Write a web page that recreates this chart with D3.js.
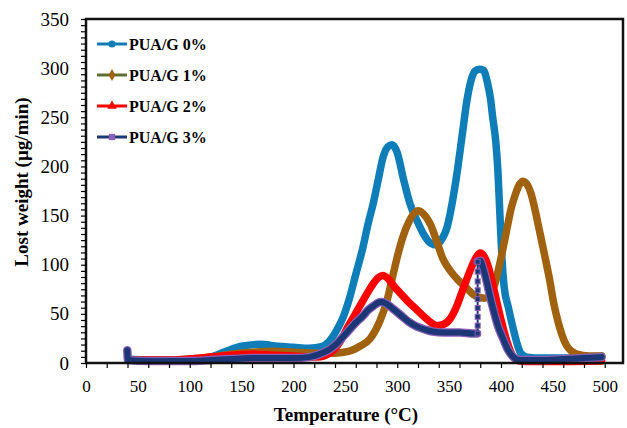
<!DOCTYPE html>
<html>
<head>
<meta charset="utf-8">
<script src="https://cdn.jsdelivr.net/npm/d3@7/dist/d3.min.js"></script>
<style>
  body { margin: 0; background: #fff; }
  text { font-family: "Liberation Serif", "Times New Roman", serif; }
</style>
</head>
<body>
<div id="chart"></div>
<script>
// data (temperature °C, lost weight µg/min)
const temp0 = [40.5, 60, 80, 100, 120, 135, 150, 168, 185, 200, 215, 228, 236, 242, 248, 254, 260, 267, 272, 277, 282, 286, 291, 295, 300, 306, 312, 319, 326, 332, 338, 343, 348, 353, 358, 363, 367, 371, 375, 379, 383, 387, 390, 392, 395, 397, 399, 401, 403, 407, 412, 416, 419, 425, 440, 460, 480, 497];
const val0  = [4, 3, 3, 3.5, 6, 12, 17, 19, 17, 16, 15, 17, 24, 34, 47, 66, 90, 118, 142, 163, 188, 208, 220, 222, 214, 187, 163, 145, 130, 122, 120, 126, 138, 163, 196, 235, 266, 287, 297, 299, 298, 285, 268, 250, 225, 196, 150, 105, 78, 57, 34, 18, 10, 6, 5, 5, 6, 7];

const temp1 = [40.5, 60, 80, 100, 120, 140, 160, 180, 200, 223, 240, 254, 264, 274, 283, 290, 296, 301, 306, 311, 316, 320, 325, 332, 338, 344, 351, 359, 367, 373, 378, 384, 389, 394, 399, 403, 406, 410, 414, 418, 421, 425, 429, 433, 437, 441, 447, 451, 455, 459, 463, 468, 473, 485, 497];
const val1  = [3, 3, 3, 4, 6, 9, 11, 12, 11, 10, 10, 12, 17, 25, 42, 63, 90, 112, 130, 143, 152, 155, 152, 141, 124, 106, 94, 84, 76, 70, 67, 66, 68, 80, 102, 122, 138, 158, 172, 182, 185, 182, 172, 155, 135, 115, 84, 60, 42, 28, 18, 12, 9, 7, 7];

const temp2 = [40.5, 60, 80, 100, 120, 140, 160, 180, 200, 223, 235, 245, 252, 258, 264, 270, 277, 282, 286, 291, 297, 303, 311, 319, 327, 334, 338, 344, 351, 357, 363, 368, 373, 377, 380, 384, 388, 392, 396, 400, 404, 408, 412, 418, 430, 460, 497];
const val2  = [3, 3, 3, 4, 6, 8, 9, 8, 7, 6, 10, 22, 36, 47, 58, 69, 81, 87, 89, 86, 78, 71, 62, 54, 46, 40, 38, 39, 45, 57, 74, 88, 101, 109, 112, 108, 97, 80, 62, 44, 28, 15, 6, 2, 1.5, 1.5, 2];

// PUA/G 3% : low branch, vertical jump (sparse markers), high branch
const temp3a = [39.8, 40.5, 60, 80, 100, 120, 140, 160, 180, 200, 215, 225, 235, 242, 248, 254, 260, 267, 272, 277, 281, 285, 290, 296, 303, 311, 319, 327, 334, 345, 360, 373, 377];
const val3a  = [13, 3, 2, 2, 2, 3, 4, 5, 5, 5, 6, 9, 14, 20, 27, 34, 41, 48, 54, 58, 61, 62, 60, 55, 49, 42, 37, 34, 32, 31, 31, 30, 30];
const temp3j = [377.5, 377.5, 377.5, 377.5, 377.5, 377.5, 377.5, 377.5, 377.5];
const val3j  = [30, 38, 47, 56, 65, 74, 83, 93, 103];
const temp3b = [377.5, 380, 383, 386, 389, 393, 397, 402, 407, 412, 418, 440, 460, 480, 497];
const val3b  = [103, 104, 96, 84, 70, 53, 38, 25, 13, 6, 3, 3, 4, 5, 6];

const seriesNames = ["PUA/G 0%", "PUA/G 1%", "PUA/G 2%", "PUA/G 3%"];
const xLabels = d3.range(0, 501, 50);
const yLabels = d3.range(0, 351, 50);

const width = 627, height = 428;
const plot = { left: 86, right: 623, top: 19, bottom: 363 };

const svg = d3.select("#chart").append("svg")
  .attr("width", width)
  .attr("height", height);

const x = d3.scaleLinear().domain([0, 517.6]).range([plot.left, plot.right]);
const y = d3.scaleLinear().domain([0, 350]).range([plot.bottom, plot.top]);

const toPts = (t, v) => t.map((d, i) => [d, v[i]]);
const line = d3.line().x(d => x(d[0])).y(d => y(d[1])).curve(d3.curveMonotoneX);
const lineStraight = d3.line().x(d => x(d[0])).y(d => y(d[1]));

const g = svg.append("g").attr("class", "series");

function thick(pts, color, w) {
  g.append("path")
    .attr("d", line(pts))
    .attr("fill", "none")
    .attr("stroke", color)
    .attr("stroke-width", w)
    .attr("stroke-linejoin", "round")
    .attr("stroke-linecap", "round");
}

thick(toPts(temp0, val0), "#0e7db8", 7.5);
thick(toPts(temp1, val1), "#a0620f", 7.5);
thick(toPts(temp2, val2), "#ff0000", 7.5);

// 3% : purple outline under navy
thick(toPts(temp3a, val3a), "#8b5fb3", 8.5);
thick(toPts(temp3b, val3b), "#8b5fb3", 8.5);
thick(toPts(temp3a, val3a), "#1c3775", 6);
thick(toPts(temp3b, val3b), "#1c3775", 6);

g.append("path")
  .attr("d", lineStraight(toPts(temp3j, val3j)))
  .attr("fill", "none")
  .attr("stroke", "#1c3775")
  .attr("stroke-width", 2);
g.selectAll("rect.jump")
  .data(toPts(temp3j, val3j))
  .join("rect")
  .attr("class", "jump")
  .attr("x", d => x(d[0]) - 2.5)
  .attr("y", d => y(d[1]) - 2.5)
  .attr("width", 5)
  .attr("height", 5)
  .attr("fill", "#1c3775")
  .attr("stroke", "#8b5fb3")
  .attr("stroke-width", 1);

// frame
svg.append("rect")
  .attr("x", plot.left).attr("y", plot.top)
  .attr("width", plot.right - plot.left)
  .attr("height", plot.bottom - plot.top)
  .attr("fill", "none")
  .attr("stroke", "#111")
  .attr("stroke-width", 2.5);

// axes: labels and minor ticks
const yLab = svg.append("g")
  .attr("transform", `translate(${plot.left},0)`)
  .call(d3.axisLeft(y).tickValues(yLabels).tickSize(0).tickPadding(17));
const yTick = svg.append("g")
  .attr("transform", `translate(${plot.left},0)`)
  .call(d3.axisLeft(y).tickValues(d3.range(0, 351, 6.25)).tickSize(5).tickFormat(""));

const xLab = svg.append("g")
  .attr("transform", `translate(0,${plot.bottom})`)
  .call(d3.axisBottom(x).tickValues(xLabels).tickSize(0).tickPadding(17));
const xTick = svg.append("g")
  .attr("transform", `translate(0,${plot.bottom})`)
  .call(d3.axisBottom(x).tickValues(d3.range(0, 518, 20)).tickSize(5).tickFormat(""));

[yLab, yTick, xLab, xTick].forEach(a => {
  a.select(".domain").remove();
  a.selectAll("text").attr("font-family", "Liberation Serif").attr("font-size", 17).attr("fill", "#000");
  a.selectAll("line").attr("stroke", "#000").attr("stroke-width", 1.2);
});
yLab.selectAll("text").attr("font-size", 19);

// axis titles
svg.append("text")
  .attr("x", 346).attr("y", 421)
  .attr("text-anchor", "middle")
  .attr("font-size", 19).attr("font-weight", "bold")
  .text("Temperature (°C)");

svg.append("text")
  .attr("transform", "translate(28,182) rotate(-90)")
  .attr("text-anchor", "middle")
  .attr("font-size", 19).attr("font-weight", "bold")
  .text("Lost weight (µg/min)");

// legend
const legLine = ["#0e7db8", "#5f6e32", "#ff0000", "#1c3775"];
const legMark = ["#0e7db8", "#a0620f", "#ff0000", "#8b5fb3"];
const legSym = [d3.symbolCircle, d3.symbolDiamond, d3.symbolTriangle, d3.symbolSquare];
const leg = svg.append("g").attr("class", "legend");
seriesNames.forEach((name, i) => {
  const cy = 44 + i * 31;
  leg.append("line")
    .attr("x1", 97).attr("x2", 127).attr("y1", cy).attr("y2", cy)
    .attr("stroke", legLine[i]).attr("stroke-width", 3);
  leg.append("path")
    .attr("d", d3.symbol().type(legSym[i]).size(40)())
    .attr("transform", `translate(112,${cy})`)
    .attr("fill", legMark[i]);
  leg.append("text")
    .attr("x", 129).attr("y", cy + 5.5)
    .attr("font-size", 16).attr("font-weight", "bold")
    .text(name);
});
</script>
</body>
</html>
